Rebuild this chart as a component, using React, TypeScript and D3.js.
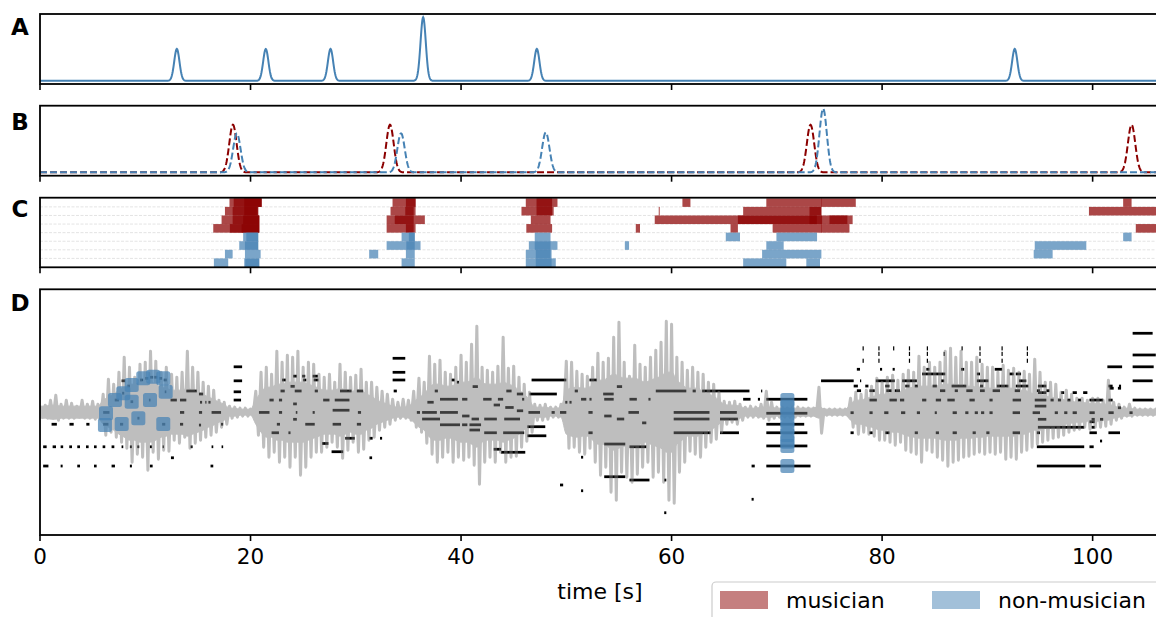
import React from "react";
import * as d3 from "d3";

// ---------------- data ----------------
const X_TICKS = [0, 20, 40, 60, 80, 100];
const X_MAX = 106.4;

// Panel A: event times (s) and relative weights
const A_TIMES = [13.0, 21.45, 27.6, 36.4, 47.2, 92.6];
const A_WEIGHTS = [1, 1, 1, 2, 1, 1];

// Panel B: musician / non-musician consensus peaks
const B_MUS_TIMES = [18.33, 33.25, 73.2, 103.7];
const B_MUS_WEIGHTS = [1, 1, 1, 1];
const B_NON_TIMES = [18.7, 34.3, 48.05, 74.4];
const B_NON_WEIGHTS = [0.82, 0.82, 0.84, 1.34];

// Panel C: [row, start, end]  rows 0-3 musicians, rows 4-7 non-musicians
const C_MUSICIAN = [
  [0, 18.0, 21.05], [0, 18.4, 21.05], [0, 19.4, 21.05], [0, 33.49, 35.68], [0, 34.76, 35.68],
  [0, 46.15, 49.16], [0, 47.17, 48.65], [0, 61.03, 61.79], [0, 69.0, 74.25], [0, 74.2, 77.5], [0, 102.9, 103.7],
  [1, 17.57, 20.73], [1, 18.3, 20.73], [1, 19.4, 20.6], [1, 33.3, 35.68], [1, 34.7, 35.5],
  [1, 45.74, 48.8], [1, 47.17, 48.65], [1, 58.78, 58.86], [1, 66.8, 74.23], [1, 73.1, 74.23], [1, 99.65, 107],
  [2, 17.25, 20.83], [2, 18.3, 20.83], [2, 19.3, 20.83], [2, 32.93, 36.56], [2, 33.7, 35.5],
  [2, 46.63, 48.5], [2, 58.4, 77.2], [2, 66.3, 74.3], [2, 73.1, 73.8], [2, 75.0, 76.7],
  [3, 16.46, 20.83], [3, 18.04, 20.83], [3, 19.15, 20.83], [3, 32.93, 35.68], [3, 34.76, 35.5],
  [3, 46.2, 48.65], [3, 56.6, 57.0], [3, 65.6, 66.3], [3, 69.6, 74.25], [3, 74.2, 76.9], [3, 104.1, 107],
];
const C_NON_MUSICIAN = [
  [4, 19.3, 20.73], [4, 19.6, 20.73], [4, 34.35, 35.6], [4, 35.04, 35.6], [4, 47.0, 48.5],
  [4, 65.15, 66.5], [4, 69.96, 73.82], [4, 102.9, 103.7],
  [5, 18.93, 20.73], [5, 19.47, 20.73], [5, 32.93, 36.15], [5, 34.8, 35.6], [5, 46.44, 49.16],
  [5, 47.0, 48.5], [5, 55.56, 55.96], [5, 69.0, 70.65], [5, 94.5, 99.4],
  [6, 17.57, 18.3], [6, 19.47, 20.96], [6, 31.27, 32.13], [6, 34.76, 35.6], [6, 46.15, 48.6],
  [6, 47.1, 48.5], [6, 68.6, 74.23], [6, 94.4, 96.2],
  [7, 16.52, 17.88], [7, 19.4, 20.83], [7, 19.5, 20.83], [7, 34.35, 35.6], [7, 46.15, 49.0],
  [7, 47.1, 48.6], [7, 66.8, 70.9], [7, 72.8, 74.1],
];

// Panel D: audio waveform, sampled every WAVE_STEP s from WAVE_T0:
// upper / lower excursions and the half-thickness of the dense core
const WAVE_T0 = 0;
const WAVE_STEP = 0.5;
const WAVE_HI = [
  5, 7, 12, 17, 8, 12, 9, 6, 12, 8, 11, 8,
  18, 33, 28, 40, 55, 45, 35, 48, 50, 61, 51, 40,
  45, 38, 35, 40, 61, 45, 40, 30, 26, 22, 12, 10,
  6, 5, 4, 4, 3, 21, 40, 45, 38, 61, 50, 57,
  55, 61, 45, 50, 48, 38, 35, 38, 30, 48, 40, 35,
  37, 43, 30, 30, 25, 21, 18, 13, 10, 13, 12, 21,
  34, 30, 56, 48, 52, 40, 38, 45, 57, 50, 68, 86,
  45, 42, 40, 46, 75, 44, 46, 35, 28, 20, 8, 7,
  8, 5, 5, 8, 51, 50, 41, 38, 36, 45, 59, 50,
  54, 75, 90, 50, 36, 67, 48, 45, 55, 62, 70, 91,
  88, 55, 50, 42, 45, 40, 38, 30, 28, 20, 11, 10,
  11, 8, 5, 6, 5, 8, 21, 10, 5, 5, 4, 5,
  5, 4, 4, 4, 25, 3, 3, 3, 3, 3, 14, 20,
  18, 22, 26, 34, 30, 35, 37, 32, 38, 42, 40, 56,
  45, 50, 45, 50, 61, 64, 55, 61, 50, 50, 55, 48,
  45, 45, 40, 47, 42, 44, 40, 41, 38, 53, 40, 30,
  30, 28, 20, 22, 18, 14, 14, 12, 14, 14, 12, 32,
  10, 8, 5, 8, 4, 3, 3, 3, 3,
];
const WAVE_LO = [
  -5, -6, -6, -8, -6, -6, -6, -5, -6, -6, -7, -7,
  -23, -20, -25, -30, -36, -50, -42, -45, -58, -40, -47, -38,
  -39, -28, -31, -25, -36, -31, -28, -25, -23, -20, -15, -12,
  -6, -5, -4, -4, -3, -23, -35, -45, -40, -50, -45, -55,
  -45, -63, -55, -45, -40, -40, -35, -30, -35, -46, -38, -30,
  -40, -37, -28, -25, -18, -15, -12, -8, -6, -6, -8, -15,
  -20, -31, -42, -50, -45, -40, -50, -45, -48, -45, -53, -72,
  -50, -45, -50, -40, -50, -45, -44, -35, -29, -20, -8, -8,
  -7, -5, -5, -6, -36, -35, -40, -42, -36, -50, -63, -55,
  -80, -88, -60, -65, -70, -62, -55, -50, -65, -60, -70, -88,
  -91, -60, -50, -39, -42, -45, -35, -30, -27, -20, -12, -10,
  -12, -8, -5, -5, -5, -6, -8, -6, -5, -5, -5, -5,
  -4, -4, -4, -4, -21, -3, -3, -3, -3, -3, -15, -22,
  -20, -22, -24, -28, -28, -30, -33, -30, -38, -40, -42, -50,
  -38, -40, -45, -48, -54, -50, -48, -45, -44, -42, -40, -42,
  -40, -42, -40, -47, -45, -47, -40, -38, -35, -32, -30, -28,
  -26, -25, -23, -20, -18, -17, -15, -17, -15, -15, -14, -12,
  -8, -6, -4, -4, -3, -3, -3, -3, -3,
];
const WAVE_CORE = [
  6, 6, 7, 7, 6, 6, 6, 6, 6, 6, 6, 6,
  12, 15, 18, 22, 25, 28, 28, 30, 30, 30, 28, 25,
  24, 22, 22, 22, 24, 22, 20, 18, 15, 13, 10, 8,
  4, 4, 3, 3, 3, 12, 20, 25, 25, 28, 28, 30,
  30, 30, 30, 28, 26, 24, 22, 22, 22, 24, 22, 20,
  22, 22, 18, 16, 12, 10, 8, 6, 5, 5, 6, 10,
  15, 18, 25, 28, 28, 26, 26, 28, 30, 30, 32, 35,
  30, 28, 28, 28, 30, 28, 26, 22, 18, 12, 5, 5,
  5, 4, 4, 5, 22, 24, 25, 24, 24, 28, 32, 32,
  35, 38, 36, 34, 34, 34, 32, 30, 32, 34, 36, 40,
  40, 32, 28, 24, 24, 24, 20, 18, 16, 12, 8, 7,
  7, 6, 4, 4, 4, 5, 5, 5, 4, 4, 4, 4,
  4, 4, 4, 4, 6, 3, 3, 3, 3, 3, 8, 12,
  12, 14, 15, 17, 18, 18, 20, 20, 22, 24, 25, 26,
  26, 26, 26, 27, 28, 28, 28, 26, 26, 26, 25, 25,
  24, 24, 24, 24, 24, 24, 22, 22, 20, 18, 18, 16,
  15, 14, 13, 12, 11, 10, 10, 9, 9, 9, 8, 8,
  6, 5, 4, 4, 3, 3, 3, 3, 3,
];

// Panel D: transcribed notes [start s, end s, pitch (semitones from centre)]
const NOTES = [
  // 0-20 s
  [1.1, 1.6, -4.3], [2.8, 3.2, -4.3], [4.4, 4.7, -4.3], [6.0, 6.5, -4.3], [7.6, 7.9, -4.3], [11.6, 11.9, -4.3],
  [13.3, 13.6, -4.3], [15.1, 15.3, -4.6], [17.2, 17.4, -4.3],
  [0.3, 0.63, -12.5], [1.2, 1.52, -12.5], [1.96, 2.2, -12.5], [2.78, 3.04, -12.5], [3.54, 3.8, -12.5],
  [4.37, 4.62, -12.5], [5.13, 5.38, -12.5], [5.95, 6.2, -12.5], [6.8, 7.06, -12.5], [7.75, 7.91, -12.5],
  [8.54, 8.73, -12.5], [9.24, 9.43, -12.5], [10.44, 10.63, -12.5], [11.65, 11.77, -12.5], [14.3, 14.5, -12.5],
  [16.3, 16.46, -12.5], [17.25, 17.4, -12.5],
  [0.3, 0.8, -19.5], [1.96, 2.15, -19.5], [3.54, 3.8, -19.5], [5.13, 5.38, -19.5], [6.8, 7.12, -19.5],
  [8.54, 8.73, -19.5], [10.44, 10.7, -19.5], [16.2, 16.46, -19.5],
  [12.44, 12.72, -16.5],
  [7.1, 7.5, 4.5], [12.4, 13.0, 4.5], [13.3, 13.9, 4.5], [18.4, 19.1, 4.5],
  [13.9, 14.9, 7.8], [15.1, 15.5, 6.7], [18.4, 19.1, 7.5],
  [15.2, 15.4, 3.7], [15.7, 15.8, 3.7], [16.0, 16.2, 3.7],
  [6.0, 6.6, 0], [13.3, 13.7, 0], [15.1, 15.4, 0], [16.3, 17.2, 0],
  [7.75, 8.1, 11.5], [18.4, 19.2, 11.5], [18.4, 19.2, 16.6],
  [9.5, 9.8, 11.8], [10.0, 10.3, 12.4], [10.45, 10.75, 12.8], [10.85, 11.15, 12.8], [11.3, 11.6, 12.4], [11.75, 12.05, 11.8],
  [8.3, 8.55, 9.6], [8.6, 8.85, 3.9], [9.25, 9.45, -2.1], [10.35, 10.5, 4.5], [11.85, 12.0, 7.5], [7.8, 8.0, 7],
  // 20-36 s
  [21.8, 22.2, 4.5], [22.7, 23.0, 4.5], [26.9, 27.5, 4.5], [28.0, 29.4, 4.5],
  [20.8, 21.8, 0], [22.7, 23.0, 0], [24.3, 24.45, 0], [25.9, 26.1, 0], [30.2, 30.5, 0], [35.8, 36.1, 0],
  [27.8, 29.4, 0.8],
  [22.85, 23.25, 7.8], [24.2, 24.85, 7.8], [26.1, 26.4, 7.8], [28.5, 29.6, 7.8], [30.1, 30.7, 7.8], [33.6, 33.9, 7.8],
  [23.0, 23.35, 11.8], [25.0, 25.3, 11.8], [26.0, 26.45, 11.8], [33.5, 34.7, 11.8],
  [24.05, 24.4, 13.2], [24.9, 25.2, 13.2], [25.9, 26.4, 13.2], [23.8, 24.2, 9.5],
  [24.05, 24.4, 3.1], [24.05, 24.4, -2.5],
  [22.5, 22.8, -4.3], [25.2, 26.1, -4.3], [27.8, 28.6, -4.3], [30.1, 30.5, -4.3],
  [22.0, 22.7, -7.4], [23.6, 23.8, -7.4],
  [29.0, 29.9, -9.4], [31.3, 31.6, -9.4], [32.3, 32.5, -9.4],
  [26.8, 27.4, -11.3], [27.7, 28.8, -14.3], [31.3, 31.55, -16.5],
  [33.5, 34.7, 14.6], [33.5, 34.7, 19.7],
  // 36-70 s
  [39.1, 39.4, 11.8], [46.7, 50.0, 11.8], [52.2, 52.9, 11.8], [39.6, 39.8, 11],
  [41.1, 41.6, 9.4], [54.8, 55.3, 9.4],
  [37.5, 37.8, 7.8], [44.3, 44.8, 7.8], [50.8, 51.1, 7.8], [58.5, 61.4, 7.8], [62.0, 62.3, 7.8], [62.9, 67.4, 7.8], [68.5, 68.6, 7.8],
  [46.5, 49.1, 6.7], [45.3, 45.9, 6.7], [53.5, 54.5, 6.7],
  [38.0, 39.7, 4.8], [40.1, 40.6, 4.8], [42.1, 42.9, 4.8], [43.5, 44.0, 4.8], [45.8, 46.0, 4.8], [51.4, 51.9, 4.8],
  [52.2, 52.4, 4.8], [53.6, 54.5, 4.8], [56.0, 56.7, 4.8], [57.8, 58.0, 4.8], [66.8, 67.5, 4.8], [68.2, 68.4, 4.8],
  [36.8, 37.4, 3.7], [49.9, 50.1, 3.7], [50.3, 50.5, 3.7],
  [43.1, 43.7, 2.7], [44.2, 45.0, 1.8], [45.3, 45.9, 0.6],
  [36.3, 37.7, 0], [38.0, 39.7, 0], [46.4, 47.5, 0], [48.6, 48.9, 0], [49.4, 50.0, 0], [52.1, 52.5, 0],
  [55.9, 56.9, 0], [60.2, 63.6, 0], [64.6, 66.2, 0],
  [40.1, 40.8, -1.3], [53.6, 54.3, -1.3],
  [36.3, 38.0, -2.4], [41.0, 41.7, -2.4], [42.2, 43.4, -2.4], [44.1, 45.6, -2.4], [54.8, 55.5, -2.4], [60.2, 63.6, -2.4], [64.6, 66.3, -2.4],
  [57.2, 57.6, -3.8],
  [38.0, 39.9, -4.5], [40.1, 40.6, -4.5], [40.8, 41.9, -4.5],
  [46.3, 48.0, -5.2], [40.8, 41.8, -6.4],
  [42.2, 43.4, -7.4], [44.0, 46.0, -7.4], [52.1, 52.5, -7.4], [60.2, 63.7, -7.4], [64.6, 66.4, -7.4],
  [46.3, 48.1, -8.5],
  [53.6, 55.6, -11.5], [56.0, 57.6, -12.5], [43.1, 43.8, -13.4], [43.8, 46.1, -14.5], [51.4, 51.6, -16.3],
  [67.6, 67.9, -19.5], [53.6, 55.6, -23.4], [56.0, 57.9, -24.6], [59.3, 59.5, -24.6], [49.4, 49.7, -26.4],
  [51.4, 51.6, -28.5], [67.6, 67.8, -31.6], [59.3, 59.5, -36.5],
  // 69-74 s
  [69.0, 72.9, 4.8], [69.0, 72.9, -0.3], [69.0, 72.6, -4.3], [69.0, 72.9, -7.4], [69.0, 72.9, -12.2], [69.0, 73.2, -19.5],
  // 74-106 s
  [103.8, 105.7, 28.8], [103.8, 106.0, 20.9],
  [101.4, 102.8, 16.6], [103.8, 105.8, 16.6],
  [77.6, 77.9, 15.7], [79.8, 80.0, 15.7], [81.0, 81.2, 15.7], [84.2, 84.5, 15.7], [87.5, 87.8, 15.7], [90.7, 91.4, 15.7],
  [83.8, 86.0, 14.0], [89.0, 89.3, 14.0], [92.1, 92.5, 14.0], [92.7, 93.2, 14.0],
  [74.2, 77.3, 11.5], [77.9, 78.0, 11.5], [79.4, 81.2, 11.5], [81.9, 83.3, 11.5], [85.6, 85.9, 11.5], [89.0, 90.1, 11.5],
  [93.0, 93.7, 11.5], [103.8, 105.7, 11.5],
  [77.3, 77.7, 9.6], [78.4, 78.7, 9.6], [80.3, 80.7, 9.6], [82.2, 82.6, 9.6], [83.1, 83.4, 9.6], [84.8, 85.2, 9.6],
  [86.6, 88.0, 9.6], [89.3, 89.6, 9.6], [90.9, 92.0, 9.6], [92.7, 93.9, 9.6], [94.8, 95.6, 9.6], [101.5, 101.9, 9.6], [102.5, 102.7, 9.6],
  [101.6, 102.0, 8.8], [102.4, 102.7, 8.8],
  [77.6, 78.0, 7.9], [78.8, 79.3, 7.9], [80.4, 80.9, 7.9], [81.2, 81.7, 7.9], [85.5, 86.0, 7.9], [86.9, 87.2, 7.9],
  [88.0, 88.6, 7.9], [89.3, 89.75, 7.9], [90.5, 91.2, 7.9], [92.6, 93.1, 7.9], [94.7, 95.0, 7.9], [95.6, 95.9, 7.9],
  [94.8, 95.6, 7.2], [97.0, 97.3, 7.2], [98.1, 98.5, 7.2], [99.1, 99.5, 7.2],
  [78.8, 79.5, 4.5], [80.7, 81.4, 4.5], [81.7, 82.1, 4.5], [83.8, 84.2, 4.5], [85.1, 85.6, 4.5], [86.2, 86.9, 4.5],
  [88.3, 88.8, 4.5], [90.2, 90.5, 4.5], [92.4, 93.2, 4.5], [94.5, 95.6, 4.5], [96.0, 96.3, 4.5], [96.7, 97.0, 4.5],
  [97.6, 97.9, 4.5], [98.6, 98.9, 4.5], [99.7, 101.0, 4.5], [101.5, 101.9, 4.5], [103.8, 105.8, 4.5],
  [94.5, 95.6, 2.3], [102.4, 102.7, 1.7],
  [77.0, 77.3, -0.1], [78.8, 79.1, -0.1], [80.2, 80.6, -0.1], [81.8, 82.2, -0.1], [83.3, 83.6, -0.1], [85.0, 85.2, -0.1],
  [86.7, 87.1, -0.1], [87.9, 88.2, -0.1], [88.8, 89.1, -0.1], [89.4, 89.7, -0.1], [90.2, 90.5, -0.1], [92.4, 93.1, -0.1],
  [94.3, 95.0, -0.1], [96.4, 96.7, -0.1], [97.3, 97.6, -0.1], [98.1, 98.5, -0.1], [99.7, 100.2, -0.1], [101.5, 102.0, -0.1], [103.5, 103.8, -0.1],
  [94.8, 95.6, -2.5], [99.9, 100.2, -2.5], [100.7, 101.0, -2.5], [99.7, 100.2, -3.4],
  [94.8, 99.2, -5.4], [99.9, 100.2, -5.4],
  [77.0, 77.3, -7.4], [78.8, 79.1, -7.4], [80.3, 80.7, -7.4], [83.1, 83.4, -7.4], [85.1, 85.4, -7.4], [86.7, 87.1, -7.4],
  [88.6, 88.9, -7.4], [89.9, 90.2, -7.4], [92.4, 93.1, -7.4], [94.7, 95.0, -7.4], [99.7, 100.4, -7.4], [101.5, 102.6, -7.4],
  [100.7, 100.9, -10.4],
  [94.7, 99.2, -12.5], [99.7, 100.1, -12.5],
  [94.7, 99.3, -19.5], [99.7, 100.8, -19.5],
];
// very short notes (onset ticks) [time, pitch]
const TICK_NOTES = [
  [78.2, 23.3], [79.7, 23.3], [81.1, 23.3], [82.6, 23.3], [84.3, 23.3], [87.6, 23.3], [89.3, 23.3], [91.4, 23.3], [93.8, 23.3],
  [79.7, 21.3], [82.6, 21.3], [84.3, 21.3], [85.9, 21.3], [89.3, 21.3], [91.4, 21.3], [93.8, 21.3],
  [78.2, 18.8], [79.7, 18.8], [82.6, 18.8], [84.3, 18.8], [89.3, 18.8], [91.4, 18.8], [93.8, 18.8],
];
// non-musician markings [time, pitch]
const NON_MUS_MARKS = [
  [6.17, -4.6], [6.27, -0.3], [7.12, 4.5], [7.91, 7], [8.71, 10], [9.81, 12.4], [10.76, 13], [11.71, 12.4],
  [11.94, 7.5], [10.45, 4.5], [8.71, 3.9], [9.34, -2.1], [7.76, -4.2], [11.71, -4.2],
  [71.0, 4.5], [71.0, 2], [71.0, -0.6], [71.0, -3.1], [71.0, -5.7], [71.0, -8.2], [71.0, -10.7], [71.0, -12.2], [71.0, -19.5],
];
const LEGEND_LABELS = ["musician", "non-musician"];
const PANEL_LABELS = ["A", "B", "C", "D"];

// ---------------- styles ----------------
const FONT = "'DejaVu Sans', 'Liberation Sans', sans-serif";
const RED = "#8b0000";
const BLUE = "#4682b4";

function kde(times: number[], weights: number[], sigma: number, grid: number[]) {
  return grid.map((t) => [t, d3.sum(times, (c, i) => weights[i] * Math.exp(-0.5 * ((t - c) / sigma) ** 2))] as [number, number]);
}

export default function App() {
  const x = d3.scaleLinear().domain([0, X_MAX]).range([40, 1160]);
  const panels = [
    { top: 14, bottom: 84 },
    { top: 105.7, bottom: 175.7 },
    { top: 197.7, bottom: 267.3 },
    { top: 289.3, bottom: 535 },
  ];
  const yA = d3.scaleLinear().domain([-0.1, 2.1]).range([84, 14]);
  const yB = d3.scaleLinear().domain([-0.07, 1.4]).range([175.7, 105.7]);
  const yC = d3.scaleLinear().domain([0, 8]).range([198.3, 267]);
  const yW = d3.scaleLinear().domain([-122.85, 122.85]).range([535, 289.3]);
  const yP = d3.scaleLinear().domain([-44.6, 44.8]).range([535, 289.3]);

  const grid = d3.range(0, X_MAX + 0.02, 0.04);
  const line = d3.line<[number, number]>().x((d) => x(d[0]));
  const pathA = line.y((d) => yA(d[1]))(kde(A_TIMES, A_WEIGHTS, 0.25, grid)) || "";
  const pathBm = line.y((d) => yB(d[1]))(kde(B_MUS_TIMES, B_MUS_WEIGHTS, 0.35, grid)) || "";
  const pathBn = line.y((d) => yB(d[1]))(kde(B_NON_TIMES, B_NON_WEIGHTS, 0.35, grid)) || "";

  const wavePts: [number, number][] = [];
  WAVE_HI.forEach((h, i) => {
    const t = WAVE_T0 + i * WAVE_STEP;
    wavePts.push([t, h]);
    wavePts.push([t + WAVE_STEP / 2, WAVE_LO[i]]);
  });
  const wavePath =
    d3
      .line<[number, number]>()
      .x((d) => x(d[0]))
      .y((d) => yW(d[1]))(wavePts) || "";
  const coreData = WAVE_CORE.map((c, i) => ({ t: WAVE_T0 + i * WAVE_STEP, c }));
  const corePath =
    d3
      .area<{ t: number; c: number }>()
      .x((d) => x(d.t))
      .y0((d) => yW(-d.c))
      .y1((d) => yW(d.c))
      .curve(d3.curveMonotoneX)(coreData) || "";

  const rowH = yC(1) - yC(0);
  const markSize = 14;
  const noteH = Math.abs(yP(1) - yP(0));

  return (
    <svg width={1156} height={617} style={{ position: "absolute", left: 0, top: 0, background: "#fff" }} fontFamily={FONT}>
      <defs>
        {panels.map((p, i) => (
          <clipPath id={`clip${i}`} key={i}>
            <rect x={x(0)} y={p.top} width={x(X_MAX) - x(0)} height={p.bottom - p.top} />
          </clipPath>
        ))}
      </defs>
      <rect x={0} y={0} width={1156} height={617} fill="#fff" />

      {/* Panel A */}
      <g clipPath="url(#clip0)">
        <path d={pathA} fill="none" stroke={BLUE} strokeWidth={2} />
      </g>

      {/* Panel B */}
      <g clipPath="url(#clip1)">
        <path d={pathBm} fill="none" stroke={RED} strokeWidth={2} strokeDasharray="7,3" />
        <path d={pathBn} fill="none" stroke={BLUE} strokeWidth={2} strokeDasharray="7,3" />
      </g>

      {/* Panel C */}
      <g clipPath="url(#clip2)">
        {d3.range(1, 8).map((r) => (
          <line key={r} x1={x(0)} x2={x(X_MAX)} y1={yC(r)} y2={yC(r)} stroke="#dcdcdc" strokeWidth={0.8} strokeDasharray="3,1.5" />
        ))}
        {C_MUSICIAN.map((b, i) => (
          <rect key={"m" + i} x={x(b[1])} y={yC(b[0])} width={Math.max(1, x(b[2]) - x(b[1]))} height={rowH} fill={RED} fillOpacity={0.72} />
        ))}
        {C_NON_MUSICIAN.map((b, i) => (
          <rect key={"n" + i} x={x(b[1])} y={yC(b[0])} width={Math.max(1, x(b[2]) - x(b[1]))} height={rowH} fill={BLUE} fillOpacity={0.72} />
        ))}
      </g>

      {/* Panel D */}
      <g clipPath="url(#clip3)">
        {NOTES.map((n, i) => (
          <rect key={"n" + i} x={x(n[0])} y={yP(n[2]) - noteH / 2} width={Math.max(1.2, x(n[1]) - x(n[0]))} height={noteH} fill="#000" />
        ))}
        {TICK_NOTES.map((n, i) => (
          <rect key={"t" + i} x={x(n[0]) - 0.6} y={yP(n[1]) - noteH * 0.75} width={1.2} height={noteH * 1.5} fill="#000" />
        ))}
        <g opacity={0.486}>
          <path d={corePath} fill="#7b7b7b" stroke="#7b7b7b" strokeWidth={1} />
          <path d={wavePath} fill="none" stroke="#7b7b7b" strokeWidth={3} strokeLinejoin="round" />
        </g>
        {NON_MUS_MARKS.map((m, i) => (
          <rect key={"s" + i} x={x(m[0]) - markSize / 2} y={yP(m[1]) - markSize / 2} width={markSize} height={markSize} rx={2.5} fill={BLUE} fillOpacity={0.72} />
        ))}
      </g>

      {/* spines and ticks */}
      {panels.map((p, i) => (
        <g key={"ax" + i}>
          <rect x={x(0)} y={p.top} width={x(X_MAX) - x(0)} height={p.bottom - p.top} fill="none" stroke="#000" strokeWidth={1.8} />
          {X_TICKS.map((t) => (
            <line key={t} x1={x(t)} x2={x(t)} y1={p.bottom} y2={p.bottom + 6} stroke="#000" strokeWidth={1.6} />
          ))}
        </g>
      ))}
      {X_TICKS.map((t) => (
        <text key={"tl" + t} x={x(t)} y={564} fontSize={21.5} textAnchor="middle" fill="#000">
          {t}
        </text>
      ))}
      <text x={x(X_MAX / 2)} y={599} fontSize={22} textAnchor="middle" fill="#000">
        time [s]
      </text>

      {/* panel labels */}
      {PANEL_LABELS.map((l, i) => (
        <text key={l} x={20} y={[35, 129.5, 216.5, 310.5][i]} fontSize={23} fontWeight="bold" textAnchor="middle" fill="#000">
          {l}
        </text>
      ))}

      {/* legend */}
      <g>
        <rect x={712} y={582} width={470} height={60} rx={4} fill="#fff" fillOpacity={0.8} stroke="#cccccc" strokeWidth={1.2} />
        <rect x={720} y={591} width={48} height={18} fill={RED} fillOpacity={0.5} />
        <text x={786} y={608} fontSize={22} fill="#000">
          {LEGEND_LABELS[0]}
        </text>
        <rect x={932} y={591} width={48} height={18} fill={BLUE} fillOpacity={0.5} />
        <text x={998} y={608} fontSize={22} fill="#000">
          {LEGEND_LABELS[1]}
        </text>
      </g>
    </svg>
  );
}
